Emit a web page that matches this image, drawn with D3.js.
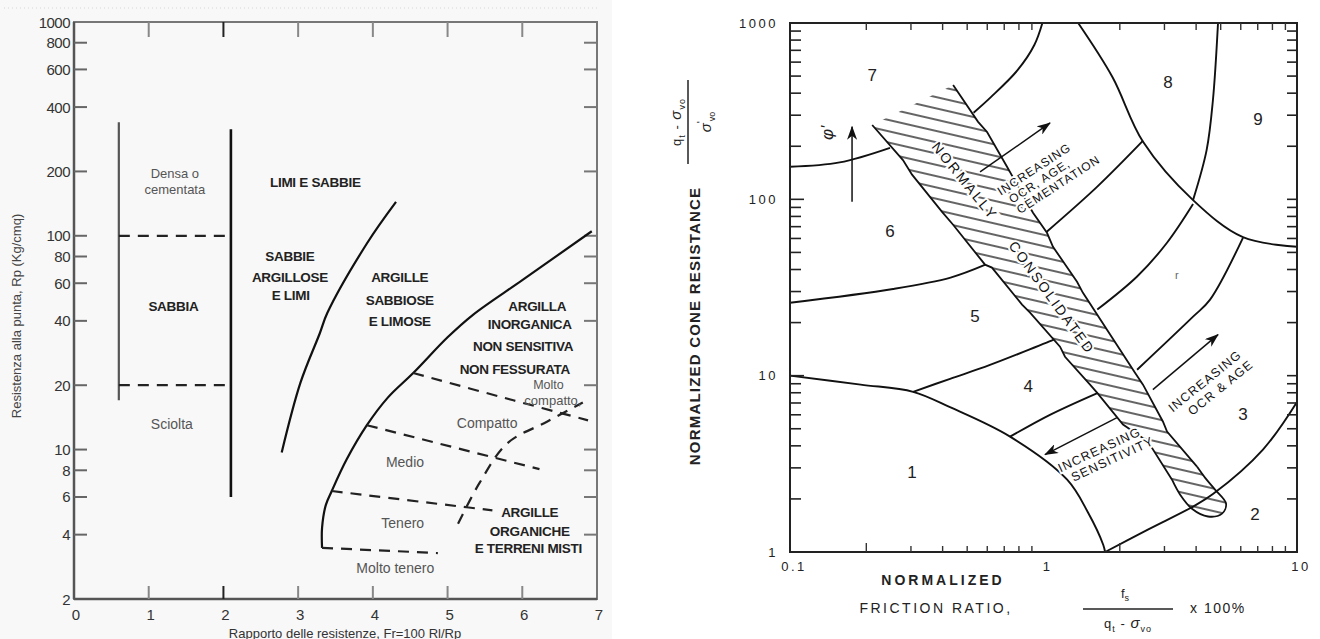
<!DOCTYPE html>
<html>
<head>
<meta charset="utf-8">
<script src="https://cdn.jsdelivr.net/npm/d3@7"></script>
<style>
  body { margin: 0; background: #fff; }
  svg { display: block; font-family: "Liberation Sans", Arial, sans-serif; }
</style>
</head>
<body>
<svg id="chart" width="1320" height="639"></svg>
<script>
// ---------- left chart: Fr (%) vs Rp (kg/cmq) ----------
const leftXTicks = [0, 1, 2, 3, 4, 5, 6, 7];
const leftYTicks = [2, 4, 6, 8, 10, 20, 40, 60, 80, 100, 200, 400, 600, 800, 1000];

const sabbiaLeftLine = [[0.6, 17], [0.6, 340]];
const sabbiaRightLine = [[2.1, 6], [2.1, 315]];
const densaDash = [[0.6, 100], [2.1, 100]];
const scioltaDash = [[0.6, 20], [2.1, 20]];
const limiCurve = [[2.78, 9.7], [3.03, 20.5], [3.29, 35], [3.39, 43.5], [3.92, 92], [4.31, 144]];
const argillaCurve = [[3.32, 3.47], [3.32, 4.3], [3.37, 5.5], [3.45, 6.4], [3.65, 9], [3.92, 13], [4.2, 17.5],
  [4.54, 22.8], [5.0, 33.5], [5.34, 42.7], [6.0, 62], [6.93, 105]];
const dashCompatto = [[4.54, 22.8], [5.88, 17], [6.88, 13.7]];
const dashMedio = [[3.92, 13], [6.23, 8.1]];
const dashTenero = [[3.45, 6.4], [5.2, 5.4], [5.6, 5.2]];
const dashMoltoTenero = [[3.32, 3.47], [4.87, 3.28]];
const dashOrganiche = [[5.14, 4.5], [5.43, 7.0], [5.8, 10.7], [6.33, 13.5], [6.81, 16.6]];

const leftLabels = [
  { t: "Densa o", x: 1.35, y: 195, b: false, s: 13 },
  { t: "cementata", x: 1.35, y: 165, b: false, s: 13 },
  { t: "LIMI E SABBIE", x: 3.23, y: 177, b: true },
  { t: "SABBIE", x: 2.89, y: 80, b: true },
  { t: "ARGILLOSE", x: 2.89, y: 64, b: true },
  { t: "E LIMI", x: 2.9, y: 52.3, b: true },
  { t: "SABBIA", x: 1.33, y: 46.5, b: true },
  { t: "Sciolta", x: 1.31, y: 13.2, b: false },
  { t: "ARGILLE", x: 4.36, y: 63.6, b: true },
  { t: "SABBIOSE", x: 4.36, y: 50, b: true },
  { t: "E LIMOSE", x: 4.36, y: 39.6, b: true },
  { t: "ARGILLA", x: 6.2, y: 46.5, b: true },
  { t: "INORGANICA", x: 6.1, y: 38.3, b: true },
  { t: "NON SENSITIVA", x: 6.01, y: 30.5, b: true },
  { t: "NON FESSURATA", x: 5.9, y: 23.8, b: true },
  { t: "Molto", x: 6.35, y: 20, b: false, s: 12.5 },
  { t: "compatto,", x: 6.41, y: 16.9, b: false, s: 13 },
  { t: "Compatto", x: 5.53, y: 13.3, b: false },
  { t: "Medio", x: 4.43, y: 8.75, b: false },
  { t: "Tenero", x: 4.4, y: 4.54, b: false },
  { t: "Molto tenero", x: 4.3, y: 2.79, b: false },
  { t: "ARGILLE", x: 6.1, y: 5.1, b: true },
  { t: "ORGANICHE", x: 6.1, y: 4.16, b: true },
  { t: "E TERRENI MISTI", x: 6.08, y: 3.43, b: true }
];

// ---------- right chart: normalized friction ratio vs normalized cone resistance ----------
const rightXLabels = [0.1, 1, 10];
const rightYLabels = [1, 10, 100, 1000];
const decadesX = [0.1, 1];
const decadesY = [1, 10, 100];

const zone1Arc = [[0.1, 10], [0.19, 8.9], [0.306, 8.1], [0.43, 6.6], [0.738, 4.51], [1.24, 2.57], [1.5, 1.67], [1.72, 1.1], [1.75, 1.0]];
const zone23 = [[1.75, 1.0], [2.58, 1.34], [3.89, 1.81], [4.66, 2.13], [7.34, 3.81], [10, 7.1]];
const zone34Left = [[0.738, 4.51], [1.06, 6.0], [1.64, 8.0]];
const zone34Right = [[2.34, 10.8], [3.89, 21.6], [4.54, 27], [6.12, 60.5]];
const zone45Left = [[0.306, 8.1], [0.428, 9.6], [0.615, 11.5], [1.1, 16]];
const zone45Right = [[1.63, 23.7], [2.34, 36.5], [3.07, 56.7], [3.89, 94]];
const zone56Left = [[0.1, 25.9], [0.255, 31], [0.43, 36], [0.59, 42.6]];
const zone56Right = [[1.03, 65.5], [1.63, 118], [2.47, 215]];
const zone67Left = [[0.1, 153], [0.157, 162], [0.248, 196]];
const zone67Right = [[0.53, 310], [0.62, 380], [0.79, 540], [0.92, 750], [0.99, 1000]];
const zone89Arc = [[1.37, 1000], [1.87, 494], [2.47, 212], [3.89, 99], [6.12, 61], [10, 53.8]];
const zone8to9 = [[4.88, 1000], [4.66, 366], [4.4, 190], [3.89, 99]];

const bandLeft = [[0.211, 264], [0.279, 167], [0.303, 138], [0.398, 84.9], [0.44, 71.8], [0.588, 42.6], [0.626, 41.0],
  [0.823, 25.3], [0.885, 22.8], [1.162, 14.6], [1.216, 12.8], [1.526, 8.89], [1.626, 8.01], [2.059, 5.28],
  [2.584, 4.23], [3.214, 2.57]];
const bandRight = [[0.44, 445], [0.552, 275], [0.599, 241], [0.718, 153], [0.909, 83.9], [1.032, 64.6], [1.09, 53.8],
  [1.356, 34.1], [1.431, 29.5], [2.296, 10.4], [2.469, 8.89], [2.961, 5.48], [3.071, 4.82], [4.032, 3.05]];
const bandLoop = [[3.214, 2.57], [3.455, 2.12], [3.852, 1.76], [4.457, 1.59], [5.06, 1.65], [5.25, 1.88],
  [4.75, 2.26], [4.335, 2.64], [4.032, 3.05]];

const zoneLabels = [
  { t: "7", x: 0.211, y: 507 }, { t: "6", x: 0.248, y: 65.5 }, { t: "5", x: 0.537, y: 21.6 },
  { t: "4", x: 0.87, y: 8.67 }, { t: "1", x: 0.303, y: 2.82 }, { t: "8", x: 3.1, y: 457 },
  { t: "9", x: 7.02, y: 282 }, { t: "3", x: 6.12, y: 6.01 }, { t: "2", x: 6.83, y: 1.63 }
];
const phiArrow = [[0.1757, 96.8], [0.1757, 258]];
const ocrCementArrow = [[0.562, 143], [1.061, 271]];
const ocrAgeArrow = [[2.7, 8.34], [4.88, 17.1]];
const sensitivityArrow = [[1.95, 5.78], [1.014, 3.57]];

// ---------- drawing ----------
const svg = d3.select("#chart");
const defs = svg.append("defs");
defs.append("pattern")
  .attr("id", "hatch").attr("patternUnits", "userSpaceOnUse")
  .attr("width", 14).attr("height", 11).attr("patternTransform", "rotate(13)")
  .append("line").attr("x1", 0).attr("x2", 14).attr("y1", 5).attr("y2", 5)
  .attr("stroke", "#111").attr("stroke-width", 1.3);
defs.append("marker")
  .attr("id", "head").attr("markerUnits", "userSpaceOnUse")
  .attr("markerWidth", 14).attr("markerHeight", 10).attr("refX", 13).attr("refY", 5).attr("orient", "auto")
  .append("path").attr("d", "M0,0 L14,5 L0,10 L4,5 z").attr("fill", "#111");

// left panel
svg.append("rect").attr("width", 612).attr("height", 639).attr("fill", "#f8f8f8");
svg.append("line").attr("x1", 4).attr("x2", 600).attr("y1", 8).attr("y2", 8)
  .attr("stroke", "#d6d6d6").attr("stroke-dasharray", "1,3");

const xL = d3.scaleLinear().domain([0, 7]).range([74, 597]);
const yL = d3.scaleLog().domain([2, 1000]).range([599, 22]);
const lineL = d3.line().x(d => xL(d[0])).y(d => yL(d[1])).curve(d3.curveCatmullRom.alpha(0.5));
const gL = svg.append("g");

// frame
gL.append("rect").attr("x", xL(0)).attr("y", yL(1000)).attr("width", xL(7) - xL(0)).attr("height", yL(2) - yL(1000))
  .attr("fill", "none").attr("stroke", "#777").attr("stroke-width", 2);
gL.append("line").attr("x1", xL(0)).attr("x2", xL(0)).attr("y1", yL(1000)).attr("y2", yL(2)).attr("stroke", "#555").attr("stroke-width", 2.5);
gL.append("line").attr("x1", xL(0)).attr("x2", xL(7)).attr("y1", yL(2)).attr("y2", yL(2)).attr("stroke", "#555").attr("stroke-width", 2.5);

leftYTicks.filter(v => v > 2 && v < 1000).forEach(v => {
  gL.append("line").attr("x1", xL(0)).attr("x2", xL(0) + 13).attr("y1", yL(v)).attr("y2", yL(v)).attr("stroke", "#666").attr("stroke-width", 2);
  gL.append("line").attr("x1", xL(7)).attr("x2", xL(7) - 13).attr("y1", yL(v)).attr("y2", yL(v)).attr("stroke", "#777").attr("stroke-width", 2);
});
leftYTicks.forEach(v => {
  gL.append("text").attr("x", xL(0) - 4).attr("y", yL(v)).attr("text-anchor", "end").attr("dominant-baseline", "central")
    .attr("font-size", 15).attr("fill", "#333").attr("letter-spacing", -0.5).text(v);
});
leftXTicks.filter(v => v > 0 && v < 7).forEach(v => {
  const c = v === 2 ? "#222" : "#888";
  gL.append("line").attr("x1", xL(v)).attr("x2", xL(v)).attr("y1", yL(2)).attr("y2", yL(2) - 13).attr("stroke", c).attr("stroke-width", 2);
  gL.append("line").attr("x1", xL(v)).attr("x2", xL(v)).attr("y1", yL(1000)).attr("y2", yL(1000) + 15).attr("stroke", c).attr("stroke-width", 2);
});
leftXTicks.forEach(v => {
  gL.append("text").attr("x", xL(v) + 2).attr("y", 614).attr("text-anchor", "middle").attr("dominant-baseline", "central")
    .attr("font-size", 15).attr("fill", "#333").text(v);
});
gL.append("text").attr("transform", "translate(16,316) rotate(-90)").attr("text-anchor", "middle")
  .attr("dominant-baseline", "central").attr("font-size", 13).attr("fill", "#444")
  .text("Resistenza alla punta, Rp (Kg/cmq)");
gL.append("text").attr("x", 345).attr("y", 633).attr("text-anchor", "middle").attr("dominant-baseline", "central")
  .attr("font-size", 13).attr("fill", "#333").text("Rapporto delle resistenze, Fr=100 Rl/Rp");

const solidL = [[sabbiaLeftLine, "#555", 2.2], [sabbiaRightLine, "#111", 2.6], [limiCurve, "#111", 2.2], [argillaCurve, "#111", 2.2]];
solidL.forEach(([d, c, w]) => gL.append("path").attr("d", lineL(d)).attr("fill", "none").attr("stroke", c).attr("stroke-width", w));
[densaDash, scioltaDash, dashCompatto, dashMedio, dashTenero, dashMoltoTenero, dashOrganiche].forEach(d => {
  gL.append("path").attr("d", lineL(d)).attr("fill", "none").attr("stroke", "#222").attr("stroke-width", 2.2)
    .attr("stroke-dasharray", "11,8");
});
leftLabels.forEach(l => {
  gL.append("text").attr("x", xL(l.x)).attr("y", yL(l.y)).attr("text-anchor", "middle").attr("dominant-baseline", "central")
    .attr("font-size", l.s || (l.b ? 13.5 : 14)).attr("font-weight", l.b ? "bold" : "normal")
    .attr("fill", l.b ? "#222" : "#555").attr("letter-spacing", l.b ? -0.3 : 0).text(l.t);
});

// right panel
const xR = d3.scaleLog().domain([0.1, 10]).range([790, 1297]);
const yR = d3.scaleLog().domain([1, 1000]).range([552, 23]);
const lineR = d3.line().x(d => xR(d[0])).y(d => yR(d[1])).curve(d3.curveCatmullRom.alpha(0.5));
const lineRL = d3.line().x(d => xR(d[0])).y(d => yR(d[1]));
const gR = svg.append("g");

// hatched normally consolidated band
const bandPoly = bandLeft.concat(bandLoop.slice(1, -1), bandRight.slice().reverse());
gR.append("path").attr("d", lineRL(bandPoly) + "Z").attr("fill", "url(#hatch)").attr("stroke", "none");
gR.append("path").attr("d", lineRL(bandLeft)).attr("fill", "none").attr("stroke", "#111").attr("stroke-width", 1.8);
gR.append("path").attr("d", lineRL(bandRight)).attr("fill", "none").attr("stroke", "#111").attr("stroke-width", 1.8);
gR.append("path").attr("d", lineR(bandLoop)).attr("fill", "none").attr("stroke", "#111").attr("stroke-width", 1.8);

[zone1Arc, zone23, zone34Left, zone34Right, zone45Left, zone45Right, zone56Left, zone56Right,
 zone67Left, zone67Right, zone89Arc, zone8to9].forEach(d => {
  gR.append("path").attr("d", lineR(d)).attr("fill", "none").attr("stroke", "#111").attr("stroke-width", 1.9);
});

// frame and ticks
gR.append("rect").attr("x", xR(0.1)).attr("y", yR(1000)).attr("width", xR(10) - xR(0.1)).attr("height", yR(1) - yR(1000))
  .attr("fill", "none").attr("stroke", "#222").attr("stroke-width", 2);
decadesY.forEach(d => d3.range(1, 10).forEach(k => {
  const v = k * d, y = yR(v);
  gR.append("line").attr("x1", xR(0.1)).attr("x2", xR(0.1) + (k === 1 ? 14 : 11)).attr("y1", y).attr("y2", y).attr("stroke", "#222").attr("stroke-width", 1.6);
  gR.append("line").attr("x1", xR(10)).attr("x2", xR(10) - 10).attr("y1", y).attr("y2", y).attr("stroke", "#222").attr("stroke-width", 1.6);
}));
decadesX.forEach(d => d3.range(2, 10).forEach(k => {
  const x = xR(k * d);
  gR.append("line").attr("x1", x).attr("x2", x).attr("y1", yR(1)).attr("y2", yR(1) - (k === 2 ? 9 : 6)).attr("stroke", "#333").attr("stroke-width", 1.4);
  gR.append("line").attr("x1", x).attr("x2", x).attr("y1", yR(1000)).attr("y2", yR(1000) + 7).attr("stroke", "#333").attr("stroke-width", 1.4);
}));
rightYLabels.forEach(v => {
  gR.append("text").attr("x", 778).attr("y", yR(v)).attr("text-anchor", "end").attr("dominant-baseline", "central")
    .attr("font-size", 13).attr("letter-spacing", 2.5).attr("fill", "#222").text(v);
});
rightXLabels.forEach(v => {
  gR.append("text").attr("x", xR(v) + 4).attr("y", 566).attr("text-anchor", "middle").attr("dominant-baseline", "central")
    .attr("font-size", 13).attr("letter-spacing", 2.5).attr("fill", "#222").text(v);
});

// zone numbers
zoneLabels.forEach(l => {
  gR.append("text").attr("x", xR(l.x)).attr("y", yR(l.y)).attr("text-anchor", "middle").attr("dominant-baseline", "central")
    .attr("font-size", 17).attr("fill", "#222").text(l.t);
});
gR.append("text").attr("x", xR(3.36)).attr("y", yR(37.3)).attr("text-anchor", "middle").attr("dominant-baseline", "central")
  .attr("font-size", 11).attr("fill", "#666").text("r");

// arrows
[phiArrow, ocrCementArrow, ocrAgeArrow, sensitivityArrow].forEach(d => {
  gR.append("path").attr("d", lineRL(d)).attr("fill", "none").attr("stroke", "#111").attr("stroke-width", 1.5)
    .attr("marker-end", "url(#head)");
});
gR.append("text").attr("transform", `translate(${xR(0.141)},${yR(238)}) rotate(-90)`).attr("text-anchor", "middle")
  .attr("dominant-baseline", "central").attr("font-size", 17).attr("font-style", "italic").attr("fill", "#222").text("φ'");

// rotated annotation blocks
function block(x, y, angle, lines, size, spacing, lh) {
  const g = gR.append("g").attr("transform", `translate(${xR(x)},${yR(y)}) rotate(${angle})`);
  lines.forEach((t, i) => {
    g.append("text").attr("x", t[1]).attr("y", (i - (lines.length - 1) / 2) * lh)
      .attr("text-anchor", "middle").attr("dominant-baseline", "central")
      .attr("font-size", size).attr("letter-spacing", spacing).attr("fill", "#111")
      .attr("stroke", "#fff").attr("stroke-width", 4).attr("paint-order", "stroke").text(t[0]);
  });
}
block(0.49, 127, 51, [["NORMALLY", 0]], 14, 2.5, 14);
block(1.08, 27.7, 54, [["CONSOLIDATED", 0]], 14, 2.2, 14);
block(1.01, 132, -33, [["INCREASING", -4], ["OCR, AGE,", -6], ["CEMENTATION", 8]], 12, 1, 13);
block(4.66, 8.9, -39, [["INCREASING", -4], ["OCR & AGE", 4]], 12.5, 1.2, 15);
block(1.764, 3.57, -25, [["INCREASING", -4], ["SENSITIVITY", 4]], 12.5, 1.2, 14);

// axis titles
gR.append("text").attr("transform", "translate(694,326) rotate(-90)").attr("text-anchor", "middle")
  .attr("dominant-baseline", "central").attr("font-size", 15).attr("font-weight", "bold").attr("letter-spacing", 1.2)
  .attr("fill", "#222").text("NORMALIZED CONE RESISTANCE");

const fy = gR.append("g").attr("transform", "translate(688,122) rotate(-90)").attr("fill", "#222");
fy.append("line").attr("x1", -42).attr("x2", 42).attr("stroke", "#222").attr("stroke-width", 1.5);
const fyNum = fy.append("text").attr("y", -7).attr("text-anchor", "middle").attr("font-size", 13).attr("letter-spacing", 1);
fyNum.append("tspan").text("q");
fyNum.append("tspan").attr("font-size", 9).attr("dy", 4).text("t");
fyNum.append("tspan").attr("dy", -4).text(" - ");
fyNum.append("tspan").attr("font-style", "italic").attr("font-size", 15).text("σ");
fyNum.append("tspan").attr("font-size", 9).attr("dy", 4).text("vo");
const fyDen = fy.append("text").attr("y", 23).attr("text-anchor", "middle").attr("font-size", 13);
fyDen.append("tspan").attr("font-style", "italic").attr("font-size", 15).text("σ");
fyDen.append("tspan").attr("font-size", 11).attr("dy", -6).text("'");
fyDen.append("tspan").attr("font-size", 9).attr("dy", 10).text("vo");

gR.append("text").attr("x", 943).attr("y", 585).attr("text-anchor", "middle").attr("font-size", 14)
  .attr("font-weight", "bold").attr("letter-spacing", 3).attr("fill", "#222").text("NORMALIZED");
gR.append("text").attr("x", 936).attr("y", 613).attr("text-anchor", "middle").attr("font-size", 14)
  .attr("letter-spacing", 2.5).attr("fill", "#222").text("FRICTION RATIO,");
gR.append("line").attr("x1", 1083).attr("x2", 1173).attr("y1", 609).attr("y2", 609).attr("stroke", "#222").attr("stroke-width", 1.5);
const fxNum = gR.append("text").attr("x", 1125).attr("y", 598).attr("text-anchor", "middle").attr("font-size", 13).attr("fill", "#222");
fxNum.append("tspan").text("f");
fxNum.append("tspan").attr("font-size", 9).attr("dy", 3).text("s");
const fxDen = gR.append("text").attr("x", 1128).attr("y", 628).attr("text-anchor", "middle").attr("font-size", 13)
  .attr("letter-spacing", 1).attr("fill", "#222");
fxDen.append("tspan").text("q");
fxDen.append("tspan").attr("font-size", 9).attr("dy", 4).text("t");
fxDen.append("tspan").attr("dy", -4).text(" - ");
fxDen.append("tspan").attr("font-style", "italic").attr("font-size", 15).text("σ");
fxDen.append("tspan").attr("font-size", 9).attr("dy", 4).text("vo");
gR.append("text").attr("x", 1190).attr("y", 613).attr("font-size", 14).attr("letter-spacing", 1.5)
  .attr("fill", "#222").text("x 100%");
</script>
</body>
</html>
